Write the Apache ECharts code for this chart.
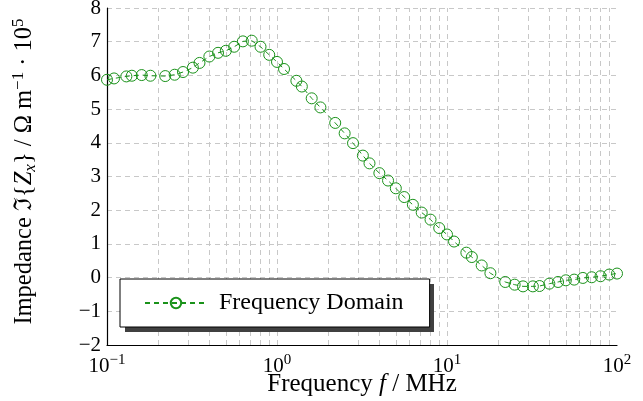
<!DOCTYPE html>
<html>
<head>
<meta charset="utf-8">
<script src="https://cdn.jsdelivr.net/npm/echarts@6/dist/echarts.min.js"></script>
<style>html,body{margin:0;padding:0;background:#fff;}#c{width:643px;height:401px;}</style>
</head>
<body>
<div id="c"></div>
<script>
const freq = [0.1, 0.11, 0.13, 0.14, 0.16, 0.18, 0.22, 0.25, 0.28, 0.32, 0.35, 0.4, 0.45, 0.5, 0.56, 0.63, 0.71, 0.8, 0.9, 1.0, 1.1, 1.3, 1.4, 1.6, 1.8, 2.2, 2.5, 2.8, 3.2, 3.5, 4.0, 4.5, 5.0, 5.6, 6.3, 7.1, 8.0, 9.0, 10, 11, 13, 14, 16, 18, 22, 25, 28, 32, 35, 40, 45, 50, 56, 63, 71, 80, 90, 100];
const imagZ = [5.87, 5.91, 5.97, 5.99, 6.01, 5.99, 5.98, 6.02, 6.10, 6.23, 6.37, 6.56, 6.67, 6.73, 6.85, 7.01, 7.03, 6.85, 6.61, 6.40, 6.19, 5.84, 5.67, 5.32, 5.05, 4.59, 4.28, 3.99, 3.62, 3.39, 3.10, 2.88, 2.65, 2.39, 2.16, 1.93, 1.72, 1.47, 1.28, 1.07, 0.74, 0.61, 0.36, 0.13, -0.13, -0.21, -0.26, -0.26, -0.25, -0.18, -0.13, -0.08, -0.06, -0.01, 0.01, 0.04, 0.09, 0.12];
const minorGridX = [0.2, 0.3, 0.4, 0.5, 0.6, 0.7, 0.8, 0.9, 2, 3, 4, 5, 6, 7, 8, 9, 20, 30, 40, 50, 60, 70, 80, 90];
const majorGridX = [1, 10];
const seriesName = 'Frequency Domain';

const serif = 'Liberation Serif, DejaVu Serif, serif';
const gridColor = '#c8c8c8';
const green = '#1a921a';

const chart = echarts.init(document.getElementById('c'), null, {renderer: 'canvas'});
const gridLineStyle = {color: gridColor, width: 1, type: [5, 4]};

chart.setOption({
  animation: false,
  backgroundColor: '#fff',
  grid: {left: 107, right: 26, top: 8, bottom: 56, containLabel: false, outerBoundsMode: 'none'},
  graphic: [{
    type: 'rect', z: 9, silent: true,
    shape: {x: 125, y: 284, width: 309, height: 48},
    style: {fill: '#404040'}
  }],
  xAxis: {
    type: 'log', logBase: 10, min: 0.1, max: 100,
    axisLine: {show: true, onZero: false, lineStyle: {color: '#000', width: 1.2}},
    axisTick: {show: false},
    splitLine: {show: false},
    axisLabel: {
      margin: 8,
      fontFamily: serif, fontSize: 21, color: '#000', lineHeight: 26,
      formatter: function (v) {
        const e = Math.round(Math.log10(v));
        return '10{sup|' + (e < 0 ? '\u2212' + (-e) : e) + '}';
      },
      rich: {sup: {fontFamily: serif, fontSize: 15, color: '#000', verticalAlign: 'top', lineHeight: 16}}
    },
    name: 'Frequency {i|f} / MHz',
    nameLocation: 'middle', nameGap: 27, nameMoveOverlap: false,
    nameTextStyle: {
      fontFamily: serif, fontSize: 25, color: '#000',
      rich: {i: {fontFamily: serif, fontSize: 25, fontStyle: 'italic', color: '#000'}}
    }
  },
  yAxis: {
    type: 'value', min: -2, max: 8, interval: 1,
    axisLine: {show: true, onZero: false, lineStyle: {color: '#000', width: 1.2}},
    axisTick: {show: false},
    splitLine: {show: true, lineStyle: gridLineStyle},
    axisLabel: {
      margin: 6, fontFamily: serif, fontSize: 21, color: '#000',
      formatter: function (v) { return String(v).replace('-', '\u2212'); }
    },
    name: 'Impedance \u2111{{i|Z}{sub|x}} / \u03A9 m{sup|\u22121} \u00B7 10{sup|5}',
    nameLocation: 'middle', nameGap: 68, nameMoveOverlap: false,
    nameTextStyle: {
      fontFamily: serif, fontSize: 24.5, color: '#000', lineHeight: 29,
      padding: [0, 0, 0, 10],
      rich: {
        i: {fontFamily: serif, fontSize: 24.5, fontStyle: 'italic', color: '#000', lineHeight: 29},
        sub: {fontFamily: serif, fontSize: 17, fontStyle: 'italic', color: '#000', verticalAlign: 'bottom', lineHeight: 17},
        sup: {fontFamily: serif, fontSize: 17, color: '#000', verticalAlign: 'top', lineHeight: 17}
      }
    }
  },
  legend: {
    data: [seriesName],
    left: 120, top: 279, z: 10,
    orient: 'horizontal',
    padding: [12, 26, 12, 24],
    itemWidth: 62, itemHeight: 13,
    backgroundColor: '#fff',
    borderColor: '#000', borderWidth: 1, borderRadius: 0,
    textStyle: {fontFamily: serif, fontSize: 24, color: '#000', padding: [0, 0, 0, 7]}
  },
  series: [
    {
      name: 'grid',
      type: 'line',
      data: [],
      z: 1,
      silent: true,
      markLine: {
        silent: true,
        z: 1,
        symbol: 'none',
        label: {show: false},
        lineStyle: gridLineStyle,
        emphasis: {disabled: true},
        data: minorGridX.concat(majorGridX).map(function (v) { return {xAxis: v}; })
      }
    },
    {
      name: seriesName,
      type: 'line',
      z: 2,
      data: freq.map(function (f, i) { return [f, imagZ[i]]; }),
      symbol: 'circle',
      symbolSize: 11,
      showAllSymbol: true,
      itemStyle: {color: 'rgba(255,255,255,0)', borderColor: green, borderWidth: 1},
      lineStyle: {color: green, width: 1, type: [5, 4]}
    }
  ]
});
</script>
</body>
</html>
